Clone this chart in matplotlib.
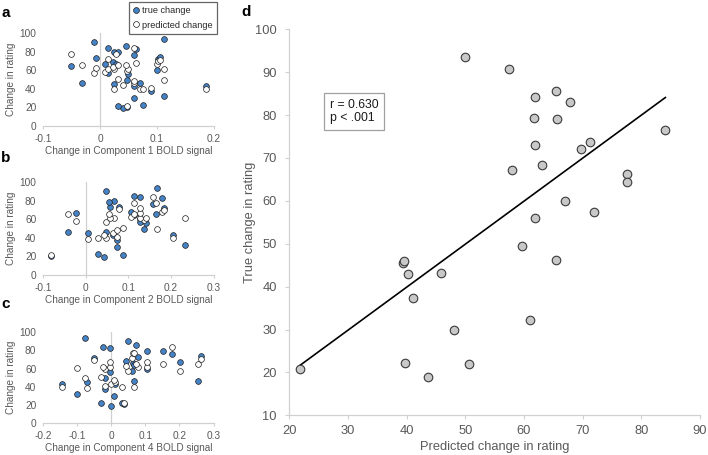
import numpy as np
import matplotlib
matplotlib.use("Agg")
import matplotlib.pyplot as plt
from matplotlib.lines import Line2D

plt.rcParams['font.family'] = ['Liberation Sans', 'DejaVu Sans']

# ---- data: one entry per subject (S1..S31) ----
predicted_change = [21.8, 39.3, 39.5, 39.7, 40.3, 41.1, 43.6, 45.8, 48.1, 50.0, 50.7,
                    57.4, 58.0, 59.6, 61.0, 61.8, 61.7, 61.9, 61.8, 63.0, 65.5, 65.6,
                    65.5, 67.0, 67.9, 69.8, 71.2, 71.9, 77.6, 77.6, 84.1]
true_change = [20.7, 45.6, 46.0, 22.2, 43.0, 37.4, 19.0, 43.1, 30.0, 93.5, 21.9,
               90.8, 67.2, 49.5, 32.3, 84.1, 79.4, 73.0, 56.0, 68.4, 85.7, 79.1,
               46.1, 59.9, 83.0, 72.2, 73.8, 57.4, 66.2, 64.3, 76.6]
comp1_bold = [0.047, 0.024, 0.071, 0.076, 0.186, 0.090, 0.041, 0.060, 0.059, 0.113, 0.031,
              -0.011, 0.008, 0.048, 0.113, 0.014, 0.025, -0.007, 0.049, 0.022, 0.045, 0.031,
              -0.032, 0.100, 0.064, 0.102, 0.106, 0.014, 0.028, -0.052, 0.060]
comp2_bold = [-0.083, 0.005, 0.047, 0.029, 0.205, 0.073, 0.042, 0.063, 0.073, 0.167, 0.087,
              0.047, -0.023, 0.137, 0.234, 0.127, 0.067, 0.057, 0.142, 0.105, 0.113, 0.055,
              -0.041, 0.128, 0.180, 0.183, 0.078, 0.127, 0.166, 0.112, 0.157]
comp4_bold = [0.036, -0.071, 0.067, 0.030, -0.145, -0.019, -0.001, 0.011, 0.008, -0.078, -0.030,
              0.050, 0.201, -0.020, -0.100, -0.024, 0.105, 0.079, -0.004, 0.042, 0.073, 0.153,
              0.253, 0.106, -0.005, -0.050, 0.263, 0.062, 0.064, 0.066, 0.179]

small_panels = [
    ("a", comp1_bold, "Change in Component 1 BOLD signal", [-0.1, 0, 0.1, 0.2], ["-0.1", "0", "0.1", "0.2"]),
    ("b", comp2_bold, "Change in Component 2 BOLD signal", [-0.1, 0, 0.1, 0.2, 0.3], ["-0.1", "0", "0.1", "0.2", "0.3"]),
    ("c", comp4_bold, "Change in Component 4 BOLD signal", [-0.2, -0.1, 0, 0.1, 0.2, 0.3], ["-0.2", "-0.1", "0", "0.1", "0.2", "0.3"]),
]
rating_ticks = [0, 20, 40, 60, 80, 100]
d_xticks = [20, 30, 40, 50, 60, 70, 80, 90]
d_yticks = [10, 20, 30, 40, 50, 60, 70, 80, 90, 100]
stats_text = "r = 0.630\np < .001"

W, H = 708, 455
fig = plt.figure(figsize=(W / 100, H / 100), dpi=100)

BLUE = "#4683c6"
EDGE = "#1e1e1e"
AXC = "#d0d0d0"
TXT = "#595959"

def px_axes(x0, x1, ytop, ybot):
    return fig.add_axes([x0 / W, 1 - ybot / H, (x1 - x0) / W, (ybot - ytop) / H])

# pixel placement of small panels: (ytop, ybot)
small_rows = [(33, 126), (182.3, 275), (332.3, 423.3)]
letter_y = [6, 151, 297]

for (letter, xs, xlabel, xt, xtl), (yt, yb), ly in zip(small_panels, small_rows, letter_y):
    ax = px_axes(43.3, 213.5, yt, yb)
    ax.set_xlim(xt[0], xt[-1])
    ax.set_ylim(0, 100)
    ax.axvline(0, color=AXC, lw=0.9, zorder=0)
    ax.scatter(xs, true_change, s=17, color=BLUE, edgecolors=EDGE, linewidths=0.5, zorder=3)
    ax.scatter(xs, predicted_change, s=17, color="white", edgecolors=EDGE, linewidths=0.5, zorder=4)
    for sp in ("top", "right", "left"):
        ax.spines[sp].set_visible(False)
    ax.spines["bottom"].set_color(AXC)
    ax.spines["bottom"].set_linewidth(0.9)
    ax.set_xticks(xt)
    ax.set_xticklabels(xtl)
    ax.set_yticks(rating_ticks)
    ax.tick_params(axis="x", colors=AXC, labelcolor=TXT, labelsize=7.3, length=2.5, width=0.8, pad=3)
    ax.tick_params(axis="y", length=0, labelcolor=TXT, labelsize=7.3, pad=5)
    ax.text(0.5, -0.27, xlabel, transform=ax.transAxes, ha="center", va="center",
            fontsize=7.2, color=TXT)
    ax.text(-0.19, 0.5, "Change in rating", transform=ax.transAxes, ha="center", va="center",
            rotation=90, fontsize=7.2, color=TXT)
    fig.text(1 / W, 1 - ly / H, letter, fontsize=11, fontweight="bold", ha="left", va="top")

# legend for panel a
handles = [
    Line2D([], [], marker="o", ls="", markersize=4.2, markerfacecolor=BLUE, markeredgecolor=EDGE, markeredgewidth=0.5),
    Line2D([], [], marker="o", ls="", markersize=4.2, markerfacecolor="white", markeredgecolor=EDGE, markeredgewidth=0.5),
]
leg = fig.legend(handles, ["true change", "predicted change"], loc="upper left",
                 bbox_to_anchor=(128.5 / W, 1 - 1.5 / H), frameon=True, fancybox=False,
                 fontsize=6.6, handlelength=0.7, handletextpad=0.25, borderpad=0.5,
                 labelspacing=0.6, borderaxespad=0)
leg.get_frame().set_edgecolor("#404040")
leg.get_frame().set_linewidth(0.9)
for t in leg.get_texts():
    t.set_color("#262626")

# panel d
axd = px_axes(289.3, 700, 29.3, 415.3)
axd.set_xlim(20, 90)
axd.set_ylim(10, 100)
axd.scatter(predicted_change, true_change, s=38, color="#c8c8c8", edgecolors="#3a3a3a",
            linewidths=0.8, zorder=3)
coef = np.polyfit(predicted_change, true_change, 1)
xl = np.array([min(predicted_change), max(predicted_change)])
axd.plot(xl, np.polyval(coef, xl), color="black", lw=1.2, zorder=2)
for sp in ("top", "right"):
    axd.spines[sp].set_visible(False)
for sp in ("left", "bottom"):
    axd.spines[sp].set_color(AXC)
    axd.spines[sp].set_linewidth(0.9)
axd.set_xticks(d_xticks)
axd.set_yticks(d_yticks)
axd.tick_params(colors=AXC, labelcolor=TXT, labelsize=9.3, length=3, width=0.8)
axd.tick_params(axis="y", pad=6)
axd.tick_params(axis="x", pad=4)
axd.text(0.5, -32 / 386, "Predicted change in rating", transform=axd.transAxes,
         ha="center", va="center", fontsize=9.3, color=TXT)
axd.text(-39 / 410.7, 0.5, "True change in rating", transform=axd.transAxes,
         ha="center", va="center", rotation=90, fontsize=9.3, color=TXT)
axd.text(26.9, 80.8, stats_text, fontsize=8.8, color="#1a1a1a", ha="left", va="center",
         linespacing=1.15,
         bbox=dict(boxstyle="square,pad=0.45", facecolor="white", edgecolor="#a0a0a0", linewidth=0.9))
fig.text(241 / W, 1 - 5 / H, "d", fontsize=11, fontweight="bold", ha="left", va="top")

fig.savefig("out.png", dpi=100)
